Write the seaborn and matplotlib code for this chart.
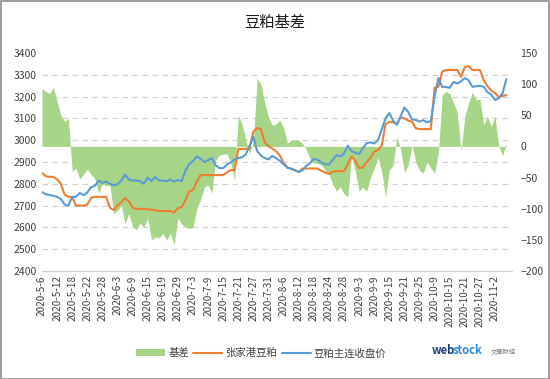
import numpy as np
import pandas as pd
import matplotlib
matplotlib.use('Agg')
import matplotlib.pyplot as plt
from matplotlib.patches import Rectangle
import seaborn as sns

# trading days, 2020-05-06 .. 2020-11-05 (Dragon Boat and National Day closed)
holidays = ['2020-06-25', '2020-06-26', '2020-10-01', '2020-10-02',
            '2020-10-05', '2020-10-06', '2020-10-07', '2020-10-08']
dates = pd.bdate_range('2020-05-06', '2020-11-05', freq='C', holidays=holidays)
date_labels = [f'{d.year}-{d.month}-{d.day}' for d in dates]

# 张家港豆粕 spot price
zjg = [2850, 2835, 2832, 2832, 2820, 2800, 2750, 2740, 2740, 2700,
       2700, 2700, 2705, 2735, 2740, 2740, 2740, 2740, 2690, 2680,
       2700, 2715, 2735, 2720, 2690, 2685, 2685, 2685, 2683, 2682,
       2678, 2675, 2675, 2675, 2675, 2668, 2688, 2694, 2725, 2765,
       2772, 2810, 2840, 2840, 2840, 2840, 2840, 2840, 2840, 2852,
       2863, 2863, 2960, 2960, 2960, 2965, 3040, 3056, 3050, 2990,
       2972, 2962, 2950, 2930, 2895, 2876, 2868, 2863, 2854, 2870,
       2870, 2870, 2870, 2870, 2860, 2852, 2845, 2855, 2858, 2858,
       2858, 2890, 2925, 2905, 2872, 2875, 2900, 2920, 2948, 2955,
       2975, 3075, 3083, 3083, 3075, 3105, 3100, 3090, 3085, 3055,
       3051, 3051, 3051, 3051, 3240, 3245, 3315, 3322, 3322, 3322,
       3322, 3290, 3335, 3340, 3322, 3322, 3322, 3275, 3248, 3228,
       3216, 3198, 3203, 3207]

# 豆粕主连 close
m_main = [2762, 2752, 2749, 2745, 2740, 2730, 2705, 2700, 2740, 2740,
          2758, 2748, 2760, 2785, 2790, 2815, 2804, 2810, 2800, 2793,
          2798, 2815, 2842, 2820, 2815, 2815, 2812, 2800, 2828, 2812,
          2832, 2815, 2815, 2812, 2820, 2810, 2818, 2812, 2860, 2890,
          2905, 2925, 2915, 2900, 2908, 2918, 2885, 2872, 2872, 2888,
          2898, 2912, 2918, 2922, 2935, 2975, 3015, 2950, 2930, 2918,
          2912, 2928, 2918, 2905, 2890, 2873, 2870, 2862, 2854, 2862,
          2882, 2895, 2915, 2910, 2898, 2890, 2888, 2909, 2932, 2925,
          2938, 2975, 2950, 2942, 2937, 2964, 2987, 2990, 2985, 3000,
          3050, 3100, 3125, 3090, 3070, 3110, 3150, 3130, 3095, 3093,
          3085, 3092, 3082, 3088, 3200, 3285, 3245, 3244, 3240, 3267,
          3260, 3270, 3285, 3275, 3245, 3248, 3249, 3245, 3220, 3210,
          3184, 3192, 3215, 3280]

# 基差 (right axis)
basis = [93, 88, 85, 95, 72, 50, 40, 45, -40, -35,
         -52, -45, -36, -45, -52, -75, -60, -63, -62, -108,
         -103, -95, -125, -108, -129, -134, -123, -130, -115, -150,
         -145, -147, -140, -150, -140, -158, -115, -125, -129, -132,
         -130, -100, -86, -65, -62, -75, -22, -14, -12, -12,
         -25, -55, 50, 36, 10, -12, 8, 110, 100, 70,
         47, 34, 36, 42, 30, 5, 10, 10, 10, 5,
         -5, -20, -27, -27, -30, -38, -45, -60, -72, -65,
         -76, -81, -15, -40, -72, -65, -72, -50, -35, -18,
         -40, -82, -38, -30, 15, -5, -42, -30, 2, -25,
         -38, -43, -25, -35, -43, -10, 82, 88, 85, 70,
         55, -8, 48, 70, 87, 75, 76, 35, 48, 32,
         48, 0, -15, 5]

sns.set_style('white')
plt.rcParams['font.family'] = ['Noto Sans CJK SC', 'DejaVu Sans']

fig = plt.figure(figsize=(5.5, 3.79), dpi=100)
ax = fig.add_axes([42 / 550, 1 - 271 / 379, 470 / 550, 218 / 379])
ax2 = ax.twinx()
ax.set_zorder(ax2.get_zorder() + 1)
ax.patch.set_visible(False)

idx = np.arange(len(dates))

# basis area on the right axis, behind the lines
ax2.fill_between(idx, basis, 0, color='#A7D587', linewidth=0, label='基差')
ax2.set_ylim(-200, 150)
ax2.set_yticks(np.arange(-200, 151, 50))
# gridlines at the left-axis ticks
ax2.set_yticks(np.linspace(-200, 150, 11), minor=True)
ax2.grid(which='minor', axis='y', color='#d0d0d0', linestyle=(0, (5, 4)), linewidth=0.8)
ax2.grid(which='major', visible=False)
ax2.set_axisbelow(True)

sns.lineplot(x=idx, y=zjg, ax=ax, color='#ED7D31', linewidth=1.5, label='张家港豆粕', legend=False)
sns.lineplot(x=idx, y=m_main, ax=ax, color='#5B9BD5', linewidth=1.5, label='豆粕主连收盘价', legend=False)
ax.set_ylim(2400, 3400)
ax.set_yticks(np.arange(2400, 3401, 100))
ax.set_xlim(0, 124.5)
ax.set_xticks(idx[::4])
ax.set_xticklabels(date_labels[::4], rotation=90)
ax.grid(False)

for a in (ax, ax2):
    for s in a.spines.values():
        s.set_visible(False)
    a.tick_params(axis='both', which='both', length=0, labelsize=7.5, colors='#404040')
ax.spines['bottom'].set_visible(True)
ax.spines['bottom'].set_color('#d0d0d0')
ax.tick_params(axis='x', labelsize=7.2, pad=3)
ax.tick_params(axis='y', pad=4)
ax2.tick_params(axis='y', pad=6)
ax.set_xlabel('')
ax.set_ylabel('')

fig.text(0.5, 0.94, '豆粕基差', ha='center', va='center', fontsize=11, color='#1a1a1a')

h2, l2 = ax2.get_legend_handles_labels()
h1, l1 = ax.get_legend_handles_labels()
fig.legend(h2 + h1, l2 + l1, loc='center', bbox_to_anchor=(0.475, 0.068), ncol=3,
           frameon=False, fontsize=7.5, handlelength=2.8, handletextpad=0.3,
           columnspacing=0.4, labelcolor='#404040')

# webstock logo as text
fig.text(0.785, 0.075, 'web', fontsize=8, weight='bold', color='#1f3c78', ha='left', va='center')
fig.text(0.824, 0.075, 'stock', fontsize=8, weight='bold', color='#2c8ad8', ha='left', va='center')
fig.text(0.893, 0.072, '文華財經', fontsize=4.5, color='#7f7f7f', ha='left', va='center')

fig.patches.append(Rectangle((0.001, 0.001), 0.997, 0.997, transform=fig.transFigure,
                             fill=False, edgecolor='#8c8c8c', linewidth=1.2))

fig.savefig('out.png', dpi=100)
